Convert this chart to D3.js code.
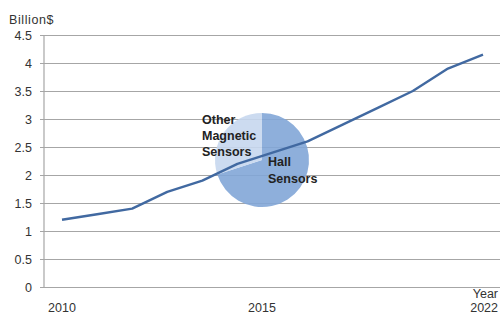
<!DOCTYPE html>
<html>
<head>
<meta charset="utf-8">
<script src="https://cdn.jsdelivr.net/npm/d3@7"></script>
<style>
  body { margin: 0; background: #fff; }
  text { font-family: "Liberation Sans", Arial, sans-serif; }
</style>
</head>
<body>
<script>
// market size, billion $
const years = [2010, 2011, 2012, 2013, 2014, 2015, 2016, 2017, 2018, 2019, 2020, 2021, 2022];
const market = [1.2, 1.3, 1.4, 1.7, 1.9, 2.2, 2.4, 2.6, 2.9, 3.2, 3.5, 3.9, 4.15];
const yTicks = [0, 0.5, 1, 1.5, 2, 2.5, 3, 3.5, 4, 4.5];
const xLabels = [{text: "2010", year: 2010}, {text: "2015", year: 2015.7}];
const shareNames = ["Hall Sensors", "Other Magnetic Sensors"];
const shareValues = [70, 30];

const W = 502, H = 316;
const svg = d3.select("body").append("svg")
    .attr("width", W)
    .attr("height", H);

const x = d3.scaleLinear().domain([2010, 2022]).range([62, 483]);
const y = d3.scaleLinear().domain([0, 4.5]).range([287, 35]);
const axisX = 44;

// gridlines + tick labels
const yAxis = svg.append("g")
    .attr("transform", `translate(${axisX - 4},0)`)
    .call(d3.axisLeft(y).tickValues(yTicks)
        .tickSize(-(500 - axisX + 4))
        .tickPadding(8)
        .tickFormat(d3.format("")));
yAxis.select(".domain").remove();
yAxis.selectAll(".tick line").attr("stroke", "#a6a6a6").attr("stroke-width", 1.2);
yAxis.selectAll(".tick text")
    .attr("font-size", 12.5)
    .attr("fill", "#333");

svg.append("line")
    .attr("x1", axisX).attr("x2", axisX)
    .attr("y1", y(4.5)).attr("y2", y(0))
    .attr("stroke", "#a6a6a6").attr("stroke-width", 1.2);

svg.append("text")
    .attr("x", 9).attr("y", 24)
    .attr("font-size", 12.5)
    .attr("letter-spacing", 0.6)
    .attr("fill", "#333")
    .text("Billion$");

// x labels
svg.append("g").selectAll("text")
    .data(xLabels)
    .join("text")
    .attr("x", d => x(d.year))
    .attr("y", 312)
    .attr("text-anchor", "middle")
    .attr("font-size", 12.5)
    .attr("fill", "#333")
    .text(d => d.text);

svg.append("text")
    .attr("x", 498).attr("y", 298)
    .attr("text-anchor", "end")
    .attr("font-size", 12.5)
    .attr("fill", "#333")
    .text("Year");
svg.append("text")
    .attr("x", 498).attr("y", 312)
    .attr("text-anchor", "end")
    .attr("font-size", 12.5)
    .attr("fill", "#333")
    .text(years[years.length - 1]);

// pie of sensor share
const pieData = d3.pie().sort(null)(shareValues);
const arc = d3.arc().innerRadius(0).outerRadius(47);
const pieColors = ["#82a6d7", "#c6d7ee"];
svg.append("g")
    .attr("transform", "translate(262,160)")
    .selectAll("path")
    .data(pieData)
    .join("path")
    .attr("d", arc)
    .attr("fill", (d, i) => pieColors[i])
    .attr("opacity", 0.9);

// line
const line = d3.line()
    .x((d, i) => x(years[i]))
    .y(d => y(d));
svg.append("path")
    .datum(market)
    .attr("d", line)
    .attr("fill", "none")
    .attr("stroke", "#4169a1")
    .attr("stroke-width", 2.4)
    .attr("stroke-linejoin", "round");

// pie labels
const otherLines = ["Other", "Magnetic", "Sensors"];
svg.append("text")
    .attr("font-size", 12.5)
    .attr("font-weight", "bold")
    .attr("fill", "#222")
    .selectAll("tspan")
    .data(otherLines)
    .join("tspan")
    .attr("x", 202)
    .attr("y", (d, i) => 124 + i * 16)
    .text(d => d);

svg.append("text")
    .attr("font-size", 12.5)
    .attr("font-weight", "bold")
    .attr("fill", "#222")
    .selectAll("tspan")
    .data(["Hall", "Sensors"])
    .join("tspan")
    .attr("x", 268)
    .attr("y", (d, i) => 166 + i * 17)
    .text(d => d);
</script>
</body>
</html>
